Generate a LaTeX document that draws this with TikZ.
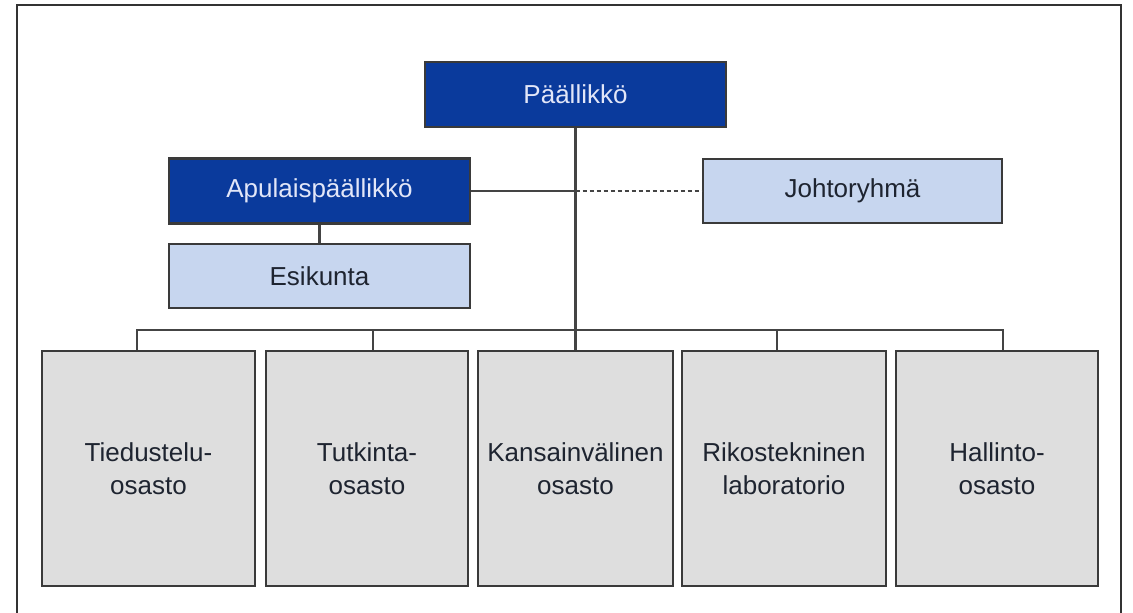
\documentclass[tikz,border=0pt]{standalone}
\usepackage{fontspec}
\usepackage{tikz}
\usetikzlibrary{calc}
\newfontfamily\arial{Liberation Sans}
\definecolor{bleu}{HTML}{0A3A9C}
\definecolor{bleuclair}{HTML}{C7D6EF}
\definecolor{gris}{HTML}{DEDEDE}
\definecolor{bord}{HTML}{3A3A3A}
\definecolor{trait}{HTML}{444444}
\definecolor{texteclair}{HTML}{E2E6F8}
\definecolor{textesombre}{HTML}{1E2430}

\begin{document}
\begin{tikzpicture}[x=1pt,y=-1pt,
  boite/.style={draw=bord, line width=2.4pt, inner sep=0pt, align=center,
    font=\arial\fontsize{26}{33}\selectfont},
  direction/.style={boite, fill=bleu, text=texteclair, minimum width=301pt, minimum height=65pt},
  appui/.style={boite, fill=bleuclair, text=textesombre, minimum width=301pt, minimum height=64pt},
  osasto/.style={boite, fill=gris, text=textesombre, minimum height=235pt},
  lien/.style={draw=trait, line width=2.4pt}]
  \useasboundingbox (0,0) rectangle (1133,613);
  % Cadre.
  \draw[line width=1.4pt, black!80] (17,613) -- (17,5) -- (1121,5) -- (1121,613);

  % Direction.
  \node[direction] (paallikko) at (575.5,94.5) {Päällikkö};
  \node[direction] (apulainen) at (319.5,191) {Apulaispäällikkö};
  \node[appui] (esikunta) at (319.5,276) {Esikunta};
  \node[appui, minimum width=299pt] (johto) at (852.5,191) {Johtoryhmä};

  % Osastot.
  \node[osasto, minimum width=213pt] (tied) at (148.5,468.5) {Tiedustelu-\\osasto};
  \node[osasto, minimum width=202pt] (tutk) at (367,468.5) {Tutkinta-\\osasto};
  \node[osasto, minimum width=195pt] (kans) at (575.5,468.5) {Kansainvälinen\\osasto};
  \node[osasto, minimum width=204pt] (riko) at (784,468.5) {Rikostekninen\\laboratorio};
  \node[osasto, minimum width=202pt] (hall) at (997,468.5) {Hallinto-\\osasto};

  % Liens.
  \coordinate (b1) at (137,330);
  \coordinate (b2) at (373,330);
  \coordinate (b4) at (777,330);
  \coordinate (b5) at (1003,330);
  \coordinate (croix) at (apulainen.east -| paallikko.south);
  \path[lien] (paallikko.south) -- (kans.north);
  \path[lien] (apulainen.east) -- (croix);
  \path[lien, dashed, dash pattern=on 4pt off 3pt] (croix) -- (johto.west);
  \path[lien] (apulainen.south) -- (esikunta.north);
  \path[lien] (b1 |- tied.north) -- (b1) -- (b5) -- (b5 |- hall.north);
  \path[lien] (b2) -- (b2 |- tutk.north);
  \path[lien] (b4) -- (b4 |- riko.north);
\end{tikzpicture}
\end{document}
